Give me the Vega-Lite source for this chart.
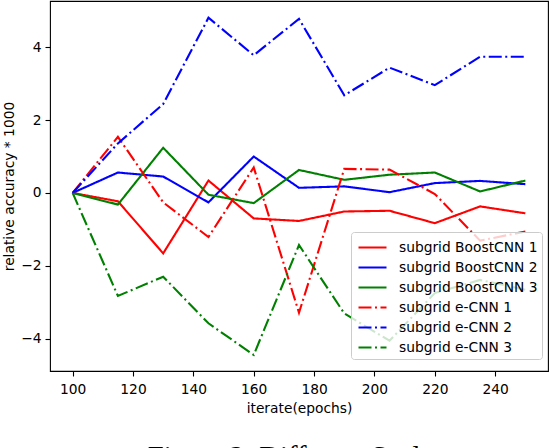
{
  "$schema": "https://vega.github.io/schema/vega-lite/v6.json",
  "autosize": "none",
  "width": 498,
  "height": 370,
  "padding": {"left": 50, "top": 1, "right": 2, "bottom": 77},
  "background": "white",
  "title": {
    "text": "Figure 2: Different Scales",
    "orient": "bottom",
    "anchor": "middle",
    "dx": -3,
    "offset": 50,
    "baseline": "alphabetic",
    "font": "Liberation Serif",
    "fontSize": 28.7,
    "fontWeight": "normal",
    "color": "black"
  },
  "data": {
    "values": [
      {"epoch": 100, "series": "subgrid BoostCNN 1", "value": 0},
      {"epoch": 115, "series": "subgrid BoostCNN 1", "value": -0.23},
      {"epoch": 130, "series": "subgrid BoostCNN 1", "value": -1.66},
      {"epoch": 145, "series": "subgrid BoostCNN 1", "value": 0.34},
      {"epoch": 160, "series": "subgrid BoostCNN 1", "value": -0.7},
      {"epoch": 175, "series": "subgrid BoostCNN 1", "value": -0.77},
      {"epoch": 190, "series": "subgrid BoostCNN 1", "value": -0.51},
      {"epoch": 205, "series": "subgrid BoostCNN 1", "value": -0.49},
      {"epoch": 220, "series": "subgrid BoostCNN 1", "value": -0.83},
      {"epoch": 235, "series": "subgrid BoostCNN 1", "value": -0.37},
      {"epoch": 250, "series": "subgrid BoostCNN 1", "value": -0.56},

      {"epoch": 100, "series": "subgrid BoostCNN 2", "value": 0},
      {"epoch": 115, "series": "subgrid BoostCNN 2", "value": 0.56},
      {"epoch": 130, "series": "subgrid BoostCNN 2", "value": 0.45},
      {"epoch": 145, "series": "subgrid BoostCNN 2", "value": -0.26},
      {"epoch": 160, "series": "subgrid BoostCNN 2", "value": 1.0},
      {"epoch": 175, "series": "subgrid BoostCNN 2", "value": 0.14},
      {"epoch": 190, "series": "subgrid BoostCNN 2", "value": 0.18},
      {"epoch": 205, "series": "subgrid BoostCNN 2", "value": 0.02},
      {"epoch": 220, "series": "subgrid BoostCNN 2", "value": 0.27},
      {"epoch": 235, "series": "subgrid BoostCNN 2", "value": 0.33},
      {"epoch": 250, "series": "subgrid BoostCNN 2", "value": 0.24},

      {"epoch": 100, "series": "subgrid BoostCNN 3", "value": 0},
      {"epoch": 115, "series": "subgrid BoostCNN 3", "value": -0.32},
      {"epoch": 130, "series": "subgrid BoostCNN 3", "value": 1.24},
      {"epoch": 145, "series": "subgrid BoostCNN 3", "value": -0.05},
      {"epoch": 160, "series": "subgrid BoostCNN 3", "value": -0.28},
      {"epoch": 175, "series": "subgrid BoostCNN 3", "value": 0.63},
      {"epoch": 190, "series": "subgrid BoostCNN 3", "value": 0.36},
      {"epoch": 205, "series": "subgrid BoostCNN 3", "value": 0.5},
      {"epoch": 220, "series": "subgrid BoostCNN 3", "value": 0.56},
      {"epoch": 235, "series": "subgrid BoostCNN 3", "value": 0.04},
      {"epoch": 250, "series": "subgrid BoostCNN 3", "value": 0.34},

      {"epoch": 100, "series": "subgrid e-CNN 1", "value": 0},
      {"epoch": 115, "series": "subgrid e-CNN 1", "value": 1.54},
      {"epoch": 130, "series": "subgrid e-CNN 1", "value": -0.26},
      {"epoch": 145, "series": "subgrid e-CNN 1", "value": -1.21},
      {"epoch": 160, "series": "subgrid e-CNN 1", "value": 0.7},
      {"epoch": 175, "series": "subgrid e-CNN 1", "value": -3.29},
      {"epoch": 190, "series": "subgrid e-CNN 1", "value": 0.66},
      {"epoch": 205, "series": "subgrid e-CNN 1", "value": 0.64},
      {"epoch": 220, "series": "subgrid e-CNN 1", "value": -0.03},
      {"epoch": 235, "series": "subgrid e-CNN 1", "value": -1.31},
      {"epoch": 250, "series": "subgrid e-CNN 1", "value": -1.06},

      {"epoch": 100, "series": "subgrid e-CNN 2", "value": 0},
      {"epoch": 115, "series": "subgrid e-CNN 2", "value": 1.36},
      {"epoch": 130, "series": "subgrid e-CNN 2", "value": 2.44},
      {"epoch": 145, "series": "subgrid e-CNN 2", "value": 4.81},
      {"epoch": 160, "series": "subgrid e-CNN 2", "value": 3.78},
      {"epoch": 175, "series": "subgrid e-CNN 2", "value": 4.78},
      {"epoch": 190, "series": "subgrid e-CNN 2", "value": 2.68},
      {"epoch": 205, "series": "subgrid e-CNN 2", "value": 3.44},
      {"epoch": 220, "series": "subgrid e-CNN 2", "value": 2.96},
      {"epoch": 235, "series": "subgrid e-CNN 2", "value": 3.74},
      {"epoch": 250, "series": "subgrid e-CNN 2", "value": 3.74},

      {"epoch": 100, "series": "subgrid e-CNN 3", "value": 0},
      {"epoch": 115, "series": "subgrid e-CNN 3", "value": -2.83},
      {"epoch": 130, "series": "subgrid e-CNN 3", "value": -2.3},
      {"epoch": 145, "series": "subgrid e-CNN 3", "value": -3.58},
      {"epoch": 160, "series": "subgrid e-CNN 3", "value": -4.45},
      {"epoch": 175, "series": "subgrid e-CNN 3", "value": -1.43},
      {"epoch": 190, "series": "subgrid e-CNN 3", "value": -3.31},
      {"epoch": 205, "series": "subgrid e-CNN 3", "value": -4.06},
      {"epoch": 220, "series": "subgrid e-CNN 3", "value": -2.75},
      {"epoch": 235, "series": "subgrid e-CNN 3", "value": -2.39},
      {"epoch": 250, "series": "subgrid e-CNN 3", "value": -2.66}
    ]
  },
  "mark": {"type": "line", "strokeWidth": 2.1, "clip": true},
  "encoding": {
    "x": {
      "field": "epoch",
      "type": "quantitative",
      "title": "iterate(epochs)",
      "scale": {"domain": [92.5, 257.5], "nice": false, "zero": false},
      "axis": {"values": [100, 120, 140, 160, 180, 200, 220, 240], "labelPadding": 6, "titlePadding": 6}
    },
    "y": {
      "field": "value",
      "type": "quantitative",
      "title": "relative accuracy * 1000",
      "scale": {"domain": [-4.89, 5.27], "nice": false, "zero": false},
      "axis": {"values": [-4, -2, 0, 2, 4], "titlePadding": 4}
    },
    "color": {
      "field": "series",
      "type": "nominal",
      "title": null,
      "scale": {
        "domain": ["subgrid BoostCNN 1", "subgrid BoostCNN 2", "subgrid BoostCNN 3", "subgrid e-CNN 1", "subgrid e-CNN 2", "subgrid e-CNN 3"],
        "range": ["#ff0000", "#0000ff", "#008000", "#ff0000", "#0000ff", "#008000"]
      }
    },
    "strokeDash": {
      "field": "series",
      "type": "nominal",
      "title": null,
      "scale": {
        "domain": ["subgrid BoostCNN 1", "subgrid BoostCNN 2", "subgrid BoostCNN 3", "subgrid e-CNN 1", "subgrid e-CNN 2", "subgrid e-CNN 3"],
        "range": [[1, 0], [1, 0], [1, 0], [13, 3.5, 2, 3.5], [13, 3.5, 2, 3.5], [13, 3.5, 2, 3.5]]
      }
    }
  },
  "config": {
    "font": "DejaVu Sans",
    "view": {"stroke": "black", "strokeWidth": 1.1},
    "axis": {
      "grid": false,
      "domain": false,
      "labelFont": "DejaVu Sans",
      "labelFontSize": 13.8,
      "labelColor": "black",
      "labelPadding": 4,
      "tickColor": "black",
      "tickSize": 5,
      "tickWidth": 1.1,
      "titleFont": "DejaVu Sans",
      "titleFontSize": 13.8,
      "titleFontWeight": "normal",
      "titleColor": "black",
      "labelFlush": false
    },
    "legend": {
      "orient": "none",
      "legendX": 301,
      "legendY": 231,
      "fillColor": "rgba(255,255,255,0.8)",
      "strokeColor": "#cccccc",
      "cornerRadius": 3,
      "padding": 4,
      "labelFont": "DejaVu Sans",
      "labelFontSize": 13.8,
      "labelColor": "black",
      "labelLimit": 300,
      "symbolType": "M-1.4,0H1.4",
      "symbolSize": 400,
      "symbolStrokeWidth": 2.1,
      "symbolOffset": 6,
      "labelOffset": 15,
      "rowPadding": 1
    }
  }
}
